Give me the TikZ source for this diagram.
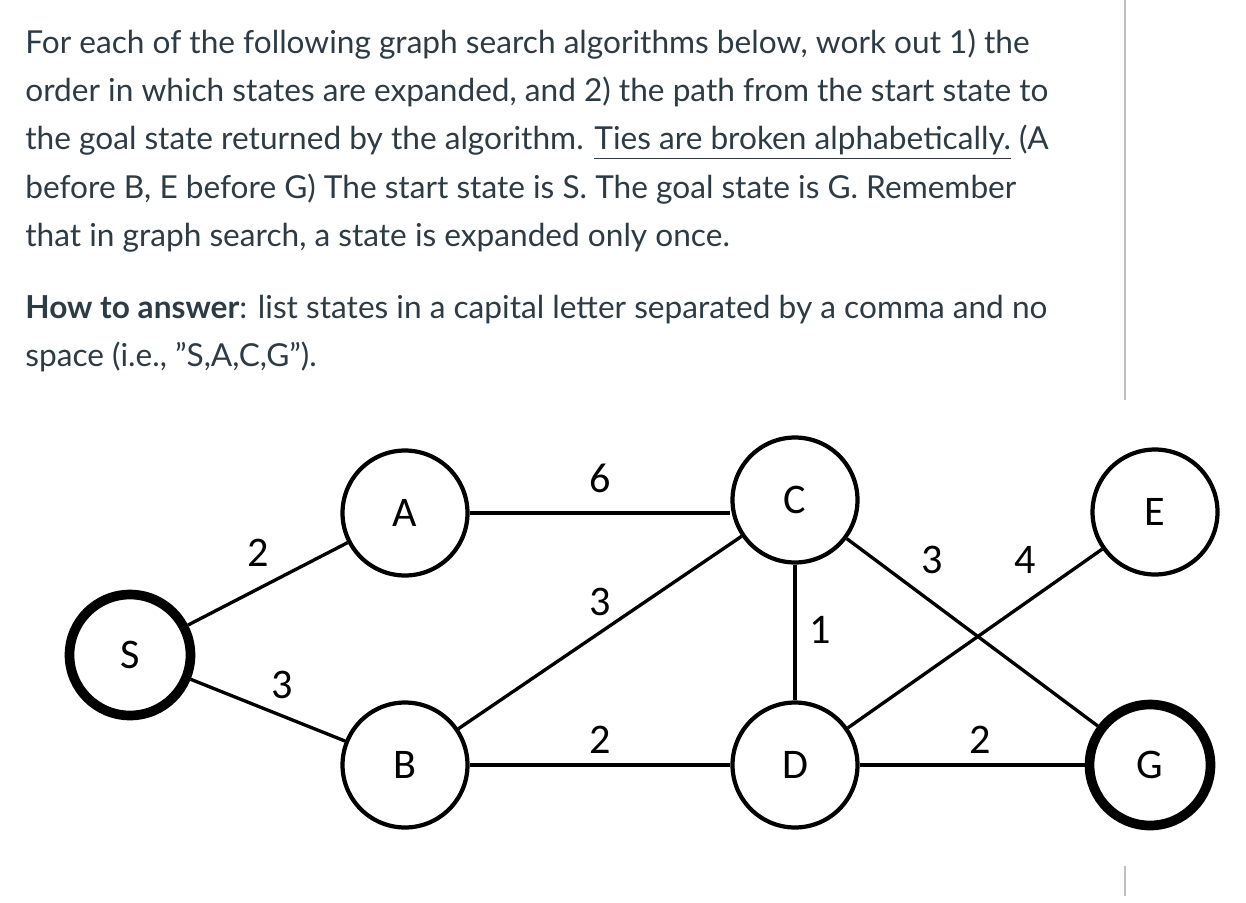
\documentclass[tikz,border=0pt]{standalone}
\usepackage{fontspec}
\setmainfont{Lato}
\newfontfamily\carfont{Carlito}
\definecolor{txt}{HTML}{2D3B45}
\newcommand{\ul}[1]{\underline{#1}}
\begin{document}
\begin{tikzpicture}[x=0.02cm,y=-0.02cm,
  line/.style={anchor=base west,inner sep=0,text=txt,font=\fontsize{18pt}{20pt}\selectfont},
  st/.style={circle,draw,line width=2.4pt,minimum size=2.5cm,inner sep=0,font=\carfont\fontsize{24pt}{26pt}\selectfont},
  gs/.style={st,line width=5.5pt,minimum size=2.42cm},
  ed/.style={line width=1.9pt},
  wl/.style={font=\carfont\fontsize{24pt}{26pt}\selectfont,inner sep=1pt}]
\useasboundingbox (0,0) rectangle (1246,902);
\node[line] (l1) at (25,54) {For each of the following graph search algorithms below, work out 1) the};
\node[line] (l2) at (25,102) {order in which states are expanded, and 2) the path from the start state to};
\node[line] (l3) at (25,150) {the goal state returned by the algorithm. \ul{Ties are broken alphabetically.} (A};
\node[line] (l4) at (25,198) {before B, E before G) The start state is S. The goal state is G. Remember};
\node[line] (l5) at (25,246) {that in graph search, a state is expanded only once.};
\node[line] (l6) at (25,318) {\textbf{How to answer}: list states in a capital letter separated by a comma and no};
\node[line] (l7) at (25,366) {space (i.e., \char"22 S,A,C,G\char"22).};
\draw[gray!50,line width=0.8pt] (1125,0) -- (1125,400);
\draw[gray!50,line width=0.8pt] (1125,866) -- (1125,896);
\node[gs] (S) at (130,655) {S};
\node[st] (A) at (405,513) {A};
\node[st] (B) at (405,765) {B};
\node[st] (C) at (795,500) {C};
\node[st] (D) at (795,765) {D};
\node[st] (E) at (1155,512) {E};
\node[gs] (G) at (1150,765) {G};
\draw[ed] (S) -- (A);
\draw[ed] (S) -- (B);
\draw[ed] (A.east) -- (A.east -| C.west);
\draw[ed] (B) -- (C);
\draw[ed] (B) -- (D);
\draw[ed] (C) -- (D);
\draw[ed] (C) -- (G);
\draw[ed] (D) -- (E);
\draw[ed] (D) -- (G);
\node[wl] (w1) at (258,553) {2};
\node[wl] (w2) at (282,685) {3};
\node[wl] (w3) at (600,478) {6};
\node[wl] (w4) at (600,602) {3};
\node[wl] (w5) at (600,740) {2};
\node[wl] (w6) at (820,630) {1};
\node[wl] (w7) at (932,560) {3};
\node[wl] (w8) at (1025,560) {4};
\node[wl] (w9) at (980,740) {2};
\end{tikzpicture}
\end{document}
